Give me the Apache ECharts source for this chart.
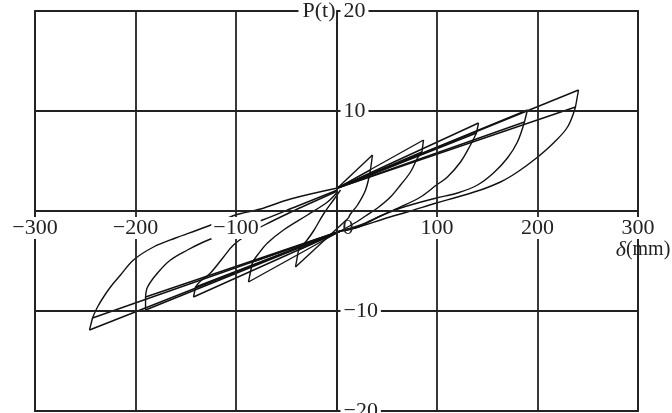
<!DOCTYPE html>
<html>
<head>
<meta charset="utf-8">
<script src="https://cdn.jsdelivr.net/npm/echarts@6/dist/echarts.min.js"></script>
<style>
  html, body { margin: 0; background: #fff; }
  #main { width: 672px; height: 413px; }
</style>
</head>
<body>
<div id="main"></div>
<script>
// 荷重-変位 履歴ループ (δ mm, P t)
var xTicks = [-300, -200, -100, 0, 100, 200, 300];
var yTicks = [-20, -10, 0, 10, 20];

var upPivot = [1, 2.3];
var lowPivot = [4, -2.0];

// 正側ピーク (上端 / 垂直降下後)
var posTop = [[35.8, 5.6], [86.6, 7.1], [141.3, 8.8], [190, 10.1], [240.8, 12.1]];
var posBot = [[33.8, 4.1], [85, 5.9], [139.3, 7.8], [187, 8.9], [237.8, 10.4]];
// 負側ピーク (下端 / 垂直上昇後)
var negBot = [[-40.8, -5.6], [-87.6, -7.1], [-142.3, -8.6], [-190, -9.9], [-245.8, -11.9]];
var negTop = [[-37.8, -3.9], [-83.6, -5.1], [-140.3, -7.6], [-190, -8.6], [-242.8, -10.7]];
var negStart = [[11.9, -0.7], [4, -2.0], [4, -2.0], [4, -2.0], [4, -2.0]];

// 除荷曲線 (正側)
var unload1 = [[33.8, 4.1], [28.9, 2.1], [20.9, 0.6], [13.9, -0.3], [11.9, -0.7]];
var unload2 = [[85, 5.9], [80.6, 5.3], [73.6, 3.9], [63.7, 2.6], [53.7, 1.4], [40.8, 0.3], [28.9, -0.5], [19.9, -1.1], [4, -2.0]];
var unload3 = [[139.3, 7.8], [133.3, 6.6], [123.4, 4.9], [110.4, 3.4], [99.5, 2.6], [83.6, 1.4], [63.7, 0.4], [43.8, -0.5], [23.9, -1.4], [4, -2.0]];
var unload4 = [[187, 8.9], [180, 6.9], [170.1, 5.3], [156.2, 3.8], [140.3, 2.6], [120.4, 1.8], [99.5, 1.3], [80.6, 0.8], [63.7, 0.3], [43.8, -0.5], [21.9, -1.6], [4, -2.0]];
var unload5 = [[237.8, 10.4], [229.9, 8.4], [215.9, 6.8], [199, 5.3], [180.1, 3.9], [163.2, 2.9], [143.3, 2.1], [120.4, 1.4], [99.5, 0.8], [73.6, 0.0], [46.8, -0.8], [21.9, -1.6], [4, -2.0]];

// 再載荷曲線 (負側)
var reload1 = [[-37.8, -3.9], [-30, -3.0], [-22.9, -2.0], [-12.9, -0.3], [-3, 1.1], [4, 2.1]];
var reload2 = [[-83.6, -5.1], [-78.6, -4.4], [-68.7, -3.2], [-52.7, -1.9], [-28.9, -0.4], [-9, 0.9], [1, 1.9]];
var reload3 = [[-140.3, -7.6], [-135.3, -7.0], [-125.4, -6.2], [-112.4, -4.6], [-102.5, -3.4], [-87.6, -2.3], [-73.6, -1.5], [-38.8, 0.2], [1, 2.0]];
var reload4 = [[-190, -8.6], [-188, -7.6], [-178.1, -6.2], [-165.2, -4.9], [-148.3, -3.9], [-132.3, -3.1], [-105.5, -2.0], [-73.6, -0.9], [-38.8, 0.5], [1, 2.1]];
var reload5 = [[-242.8, -10.7], [-237.8, -9.6], [-231.8, -8.6], [-224.9, -7.6], [-214.9, -6.4], [-202, -4.9], [-182.1, -3.6], [-160.2, -2.7], [-138.3, -1.9], [-120, -1.2], [-100.5, -0.4], [-75.6, 0.2], [-45.8, 1.2], [1, 2.3]];

var unloadCurves = [unload1, unload2, unload3, unload4, unload5];
var reloadCurves = [reload1, reload2, reload3, reload4, reload5];

var serif = "'Liberation Serif', 'DejaVu Serif', serif";
var ink = '#111';
var gridInk = '#222';

function minus(v) {
    return v < 0 ? '\u2212' + Math.abs(v) : String(v);
}

function seg(pts, smooth) {
    return {
        type: 'line',
        data: pts,
        smooth: smooth ? 0.35 : false,
        symbol: 'none',
        silent: true,
        animation: false,
        lineStyle: { color: ink, width: 1.4 }
    };
}

var series = [];
for (var k = 0; k < 5; k++) {
    series.push(seg([upPivot, posTop[k]]));
    series.push(seg([upPivot, posBot[k]]));
    series.push(seg([posTop[k], posBot[k]]));
    series.push(seg([negStart[k], negBot[k]]));
    series.push(seg([lowPivot, negTop[k]]));
    series.push(seg([negBot[k], negTop[k]]));
    series.push(seg(unloadCurves[k], true));
    series.push(seg(reloadCurves[k], true));
}

var myChart = echarts.init(document.getElementById('main'));

var option = {
    backgroundColor: '#fff',
    grid: {
        left: 35, right: 34, top: 11, bottom: 2,
        show: true, borderColor: gridInk, borderWidth: 1.8,
        outerBoundsMode: 'none'
    },
    xAxis: {
        type: 'value',
        min: xTicks[0], max: xTicks[xTicks.length - 1], interval: 100,
        z: 10,
        position: 'bottom',
        offset: -200,
        name: '{d|δ}(mm)',
        nameLocation: 'end',
        nameGap: 5,
        nameMoveOverlap: false,
        nameTextStyle: {
            align: 'center', verticalAlign: 'top', padding: [28, 0, 0, 0],
            fontSize: 20, fontFamily: serif, color: '#222',
            rich: { d: { fontStyle: 'italic', fontSize: 22, fontFamily: serif, color: '#222' } }
        },
        axisLine: { onZero: false, lineStyle: { color: gridInk, width: 1.8 } },
        axisTick: { show: false },
        splitLine: { lineStyle: { color: gridInk, width: 1.8 } },
        axisLabel: {
            show: true,
            margin: 6,
            fontSize: 22,
            fontFamily: serif,
            color: '#222',
            backgroundColor: '#fff',
            padding: [0, 2],
            showMinLabel: true,
            showMaxLabel: true,
            formatter: function (v) { return v === 0 ? '' : minus(v); }
        }
    },
    yAxis: {
        type: 'value',
        min: yTicks[0], max: yTicks[yTicks.length - 1], interval: 10,
        z: 10,
        position: 'left',
        offset: -301.5,
        name: 'P(t)',
        nameLocation: 'end',
        nameGap: 0,
        nameMoveOverlap: false,
        nameTextStyle: {
            align: 'right', verticalAlign: 'middle', padding: [0, 1, 0, 4],
            backgroundColor: '#fff', fontSize: 22, fontFamily: serif, color: '#222'
        },
        axisLine: { onZero: false, lineStyle: { color: gridInk, width: 1.8 } },
        axisTick: { show: false },
        splitLine: { lineStyle: { color: gridInk, width: 1.8 } },
        axisLabel: {
            inside: true,
            margin: 4,
            showMinLabel: true,
            showMaxLabel: true,
            formatter: function (v) { return v === 0 ? '{z|0}' : '{b|' + minus(v) + '}'; },
            rich: {
                b: { backgroundColor: '#fff', padding: [0, 3], fontSize: 22, fontFamily: serif, color: '#222' },
                z: { padding: [34, 0, 0, 2], fontSize: 22, fontFamily: serif, color: '#222' }
            }
        }
    },
    series: series
};

myChart.setOption(option);
</script>
</body>
</html>
